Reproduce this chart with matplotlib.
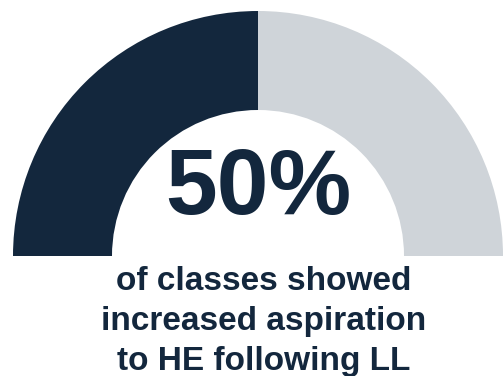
import matplotlib
matplotlib.use("Agg")
import matplotlib.pyplot as plt

# gauge data
labels = ["increased aspiration", "no change"]
values = [50, 50]
colors = ["#13273d", "#cfd4d9"]
headline = "50%"
caption = ["of classes showed", "increased aspiration", "to HE following LL"]

plt.rcParams["font.family"] = ["Liberation Sans", "DejaVu Sans"]

fig = plt.figure(figsize=(5.04, 3.76), dpi=100)
ax = fig.add_axes([0, 0, 1, 1])

# upper half only: pad the pie with an invisible lower half
total = sum(values)
ax.pie(values + [total], colors=colors + ["none"], startangle=180,
       counterclock=False, center=(258, 120), radius=245, frame=True,
       wedgeprops=dict(width=99, linewidth=0))

ax.text(258, 162, headline, ha="center", va="baseline", fontsize=67,
        fontweight="bold", color=colors[0])
for i, line in enumerate(caption):
    ax.text(264, 86 - i * 40, line, ha="center", va="baseline",
            fontsize=24, fontweight="bold", color=colors[0])

ax.set_xlim(0, 504)
ax.set_ylim(0, 376)
ax.set_aspect("equal")
ax.axis("off")
fig.savefig("out.png", dpi=100)
